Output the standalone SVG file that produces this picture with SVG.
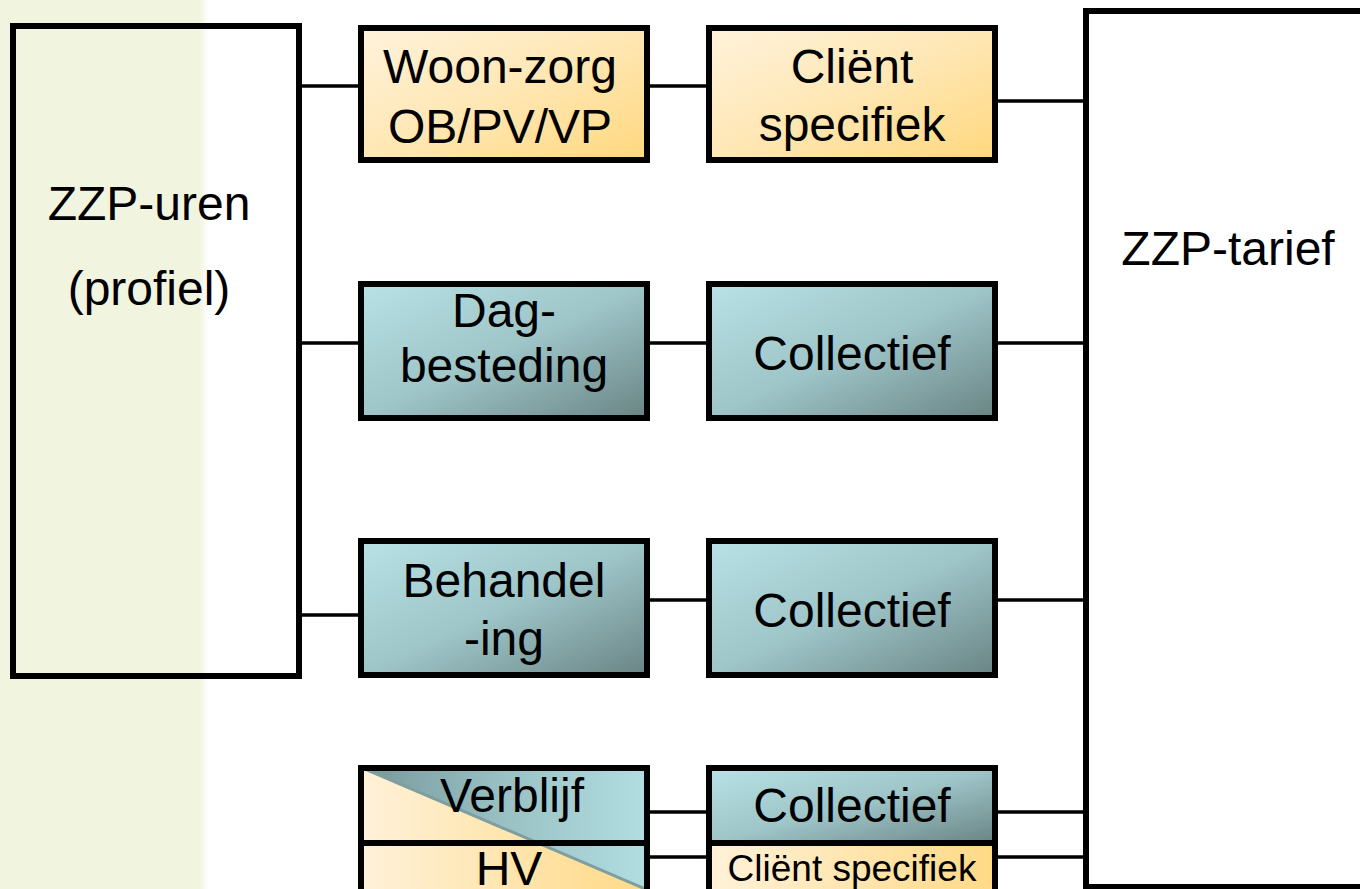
<svg xmlns="http://www.w3.org/2000/svg" width="1360" height="889" viewBox="0 0 1360 889">
  <defs>
    <linearGradient id="gYellow" x1="0" y1="0" x2="1" y2="1">
      <stop offset="0" stop-color="#FFF3DC"/>
      <stop offset="0.5" stop-color="#FFE7B4"/>
      <stop offset="1" stop-color="#FFD87E"/>
    </linearGradient>
    <linearGradient id="gTeal" x1="0" y1="0" x2="1" y2="1">
      <stop offset="0" stop-color="#B8E2E6"/>
      <stop offset="0.5" stop-color="#9EC5C8"/>
      <stop offset="1" stop-color="#6A8485"/>
    </linearGradient>
    <linearGradient id="gTealRev" x1="0" y1="0" x2="1" y2="0">
      <stop offset="0" stop-color="#76979A"/>
      <stop offset="0.5" stop-color="#99C1C4"/>
      <stop offset="1" stop-color="#B2DEE2"/>
    </linearGradient>
    <linearGradient id="gYellowH" x1="0" y1="0" x2="1" y2="0">
      <stop offset="0" stop-color="#FFF2DA"/>
      <stop offset="1" stop-color="#FFD985"/>
    </linearGradient>
    <linearGradient id="gStrip" x1="0" y1="0" x2="1" y2="0">
      <stop offset="0" stop-color="#F1F5DF"/>
      <stop offset="0.96" stop-color="#F1F5DF"/>
      <stop offset="1" stop-color="#FFFFFF"/>
    </linearGradient>
    <clipPath id="clipVH">
      <rect x="358" y="765" width="292" height="130"/>
    </clipPath>
    <style>
      .box { stroke: #000; stroke-width: 6; }
      .conn { stroke: #000; stroke-width: 3.5; fill: none; }
      .t { font-family: "Liberation Sans", Arial, sans-serif; font-size: 48px; fill: #000; text-anchor: middle; }
      .ts { font-family: "Liberation Sans", Arial, sans-serif; font-size: 37px; fill: #000; text-anchor: middle; }
    </style>
  </defs>

  <rect x="0" y="0" width="1360" height="889" fill="#FFFFFF"/>
  <rect x="0" y="0" width="208" height="889" fill="url(#gStrip)"/>

  <g id="connectors">
    <line class="conn" x1="299" y1="86" x2="361" y2="86"/>
    <line class="conn" x1="647" y1="86" x2="709" y2="86"/>
    <line class="conn" x1="995" y1="101" x2="1086" y2="101"/>
    <line class="conn" x1="299" y1="343" x2="361" y2="343"/>
    <line class="conn" x1="647" y1="343" x2="709" y2="343"/>
    <line class="conn" x1="995" y1="343" x2="1086" y2="343"/>
    <line class="conn" x1="299" y1="615" x2="361" y2="615"/>
    <line class="conn" x1="647" y1="600" x2="709" y2="600"/>
    <line class="conn" x1="995" y1="600" x2="1086" y2="600"/>
    <line class="conn" x1="647" y1="812" x2="709" y2="812"/>
    <line class="conn" x1="995" y1="812" x2="1086" y2="812"/>
    <line class="conn" x1="647" y1="857" x2="709" y2="857"/>
    <line class="conn" x1="995" y1="857" x2="1086" y2="857"/>
  </g>

  <g id="zzp-uren">
    <rect class="box" x="13" y="26" width="286" height="650" fill="none"/>
    <text class="t" x="149" y="220">ZZP-uren</text>
    <text class="t" x="149" y="305">(profiel)</text>
  </g>

  <g id="zzp-tarief">
    <rect class="box" x="1086" y="11" width="300" height="876" fill="#FFFFFF"/>
    <text class="t" x="1228" y="265">ZZP-tarief</text>
  </g>

  <g id="woon-zorg">
    <rect class="box" x="361" y="28" width="286" height="132" fill="url(#gYellow)"/>
    <text class="t" x="500" y="83">Woon-zorg</text>
    <text class="t" x="500" y="143">OB/PV/VP</text>
  </g>

  <g id="client-specifiek-1">
    <rect class="box" x="709" y="28" width="286" height="132" fill="url(#gYellow)"/>
    <text class="t" x="852" y="83">Cliënt</text>
    <text class="t" x="852" y="141">specifiek</text>
  </g>

  <g id="dagbesteding">
    <rect class="box" x="361" y="284" width="286" height="134" fill="url(#gTeal)"/>
    <text class="t" x="504" y="327">Dag-</text>
    <text class="t" x="504" y="382">besteding</text>
  </g>

  <g id="collectief-1">
    <rect class="box" x="709" y="284" width="286" height="134" fill="url(#gTeal)"/>
    <text class="t" x="852" y="370">Collectief</text>
  </g>

  <g id="behandeling">
    <rect class="box" x="361" y="541" width="286" height="134" fill="url(#gTeal)"/>
    <text class="t" x="504" y="597">Behandel</text>
    <text class="t" x="504" y="655">-ing</text>
  </g>

  <g id="collectief-2">
    <rect class="box" x="709" y="541" width="286" height="134" fill="url(#gTeal)"/>
    <text class="t" x="852" y="627">Collectief</text>
  </g>

  <g id="verblijf-hv">
    <g clip-path="url(#clipVH)">
      <polygon points="358,766 650,891 650,895 358,895" fill="url(#gYellowH)"/>
      <polygon points="358,766 650,766 650,891" fill="url(#gTealRev)"/>
      <line x1="358" y1="766" x2="650" y2="891" stroke="#7F9EA0" stroke-width="3"/>
    </g>
    <rect class="box" x="361" y="768" width="286" height="75" fill="none"/>
    <rect class="box" x="361" y="843" width="286" height="60" fill="none"/>
    <text class="t" x="512" y="812">Verblijf</text>
    <text class="t" x="509" y="885">HV</text>
  </g>

  <g id="collectief-3">
    <rect class="box" x="709" y="768" width="286" height="75" fill="url(#gTeal)"/>
    <text class="t" x="852" y="822">Collectief</text>
  </g>

  <g id="client-specifiek-2">
    <rect class="box" x="709" y="843" width="286" height="60" fill="url(#gYellowH)"/>
    <text class="ts" x="852" y="881">Cliënt specifiek</text>
  </g>
</svg>
